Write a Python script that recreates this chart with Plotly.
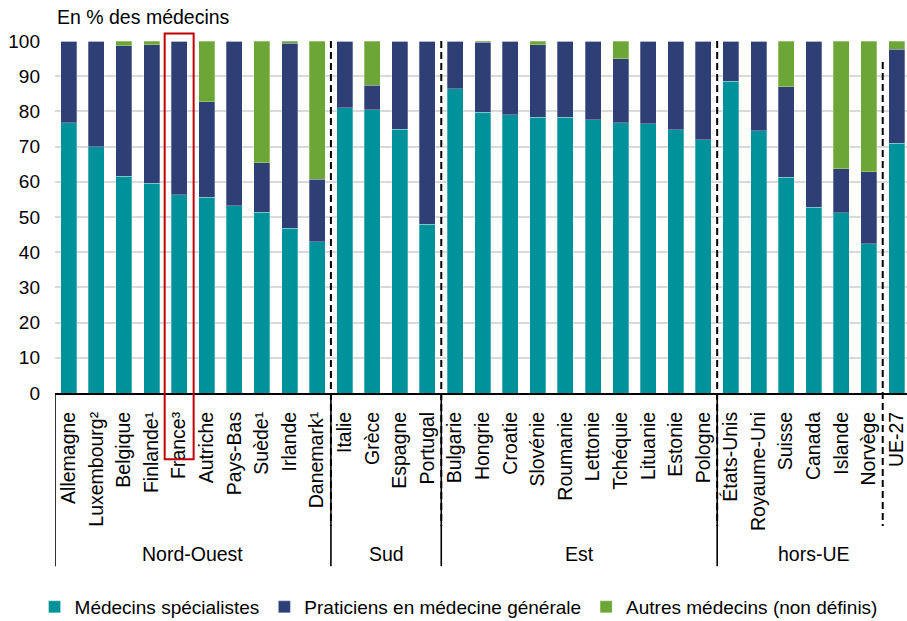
import plotly.graph_objects as go

categories = ["Allemagne", "Luxembourg²", "Belgique", "Finlande¹", "France³", "Autriche",
              "Pays-Bas", "Suède¹", "Irlande", "Danemark¹",
              "Italie", "Grèce", "Espagne", "Portugal",
              "Bulgarie", "Hongrie", "Croatie", "Slovénie", "Roumanie", "Lettonie",
              "Tchéquie", "Lituanie", "Estonie", "Pologne",
              "États-Unis", "Royaume-Uni", "Suisse", "Canada", "Islande", "Norvège",
              "UE-27"]

specialistes = [76.8, 70.0, 61.6, 59.6, 56.3, 55.6, 53.2, 51.4, 46.8, 43.0,
                81.1, 80.4, 75.0, 48.0,
                86.5, 79.8, 79.1, 78.4, 78.3, 77.6, 76.8, 76.5, 74.8, 71.9,
                88.5, 74.5, 61.3, 52.8, 51.2, 42.4,
                70.9]
generalistes = [23.2, 30.0, 37.0, 39.4, 43.7, 27.1, 46.8, 14.0, 52.5, 17.7,
                18.9, 7.0, 25.0, 52.0,
                13.5, 19.9, 20.9, 20.5, 21.7, 22.4, 18.1, 23.5, 25.2, 28.1,
                11.5, 25.5, 25.7, 47.2, 12.5, 20.5,
                26.7]
autres = [0.0, 0.0, 1.4, 1.0, 0.0, 17.3, 0.0, 34.6, 0.7, 39.3,
          0.0, 12.6, 0.0, 0.0,
          0.0, 0.3, 0.0, 1.1, 0.0, 0.0, 5.1, 0.0, 0.0, 0.0,
          0.0, 0.0, 13.0, 0.0, 36.3, 37.1,
          2.4]

series_names = ["Médecins spécialistes", "Praticiens en médecine générale",
                "Autres médecins (non définis)"]
series_colors = ["#00929A", "#2E3F76", "#6CA636"]

groups = ["Nord-Ouest", "Sud", "Est", "hors-UE"]
group_sizes = [10, 4, 10, 7]
yticks = [0, 10, 20, 30, 40, 50, 60, 70, 80, 90, 100]

FONT = "Liberation Sans, Arial, sans-serif"
x_idx = list(range(len(categories)))

fig = go.Figure()
for name, vals, col in zip(series_names, [specialistes, generalistes, autres], series_colors):
    fig.add_trace(go.Bar(x=x_idx, y=vals, name=name, marker_color=col,
                         marker_line=dict(color="rgba(255,255,255,0.35)", width=0.8),
                         width=0.58))

shapes = []
# group separators (solid) below the axis
bounds = [-0.5]
acc = -0.5
for s in group_sizes[:-1]:
    acc += s
    bounds.append(acc)
for b in bounds:
    shapes.append(dict(type="line", xref="x", yref="paper", x0=b, x1=b, y0=0, y1=-0.492,
                       line=dict(color="black", width=1.6)))
# dashed separators
for b, top in [(9.5, 1.0), (13.5, 1.0), (23.5, 1.0), (29.5, 0.94)]:
    shapes.append(dict(type="line", xref="x", yref="paper", x0=b, x1=b, y0=top, y1=-0.378,
                       line=dict(color="black", width=2, dash="7px,4px")))
# red highlight around France
fi = categories.index("France³")
shapes.append(dict(type="rect", xref="x", yref="paper", x0=fi - 0.525, x1=fi + 0.525,
                   y0=-0.1885, y1=1.021, line=dict(color="#C00000", width=2),
                   fillcolor="rgba(0,0,0,0)"))

annotations = [dict(text="En % des médecins", xref="paper", yref="paper", x=0, y=1.069,
                    xanchor="left", yanchor="middle", showarrow=False,
                    font=dict(family=FONT, size=19.5, color="black"))]
start = 0
for g, s in zip(groups, group_sizes):
    end = start + s
    annotations.append(dict(text=g, xref="x", yref="paper", x=(start - 0.5 + end - 0.5) / 2,
                            y=-0.458, xanchor="center", yanchor="middle", showarrow=False,
                            font=dict(family=FONT, size=19.5, color="black")))
    start = end

fig.update_layout(
    barmode="stack",
    width=907, height=621,
    margin=dict(l=55, r=0, t=40.7, b=227.5, autoexpand=False),
    plot_bgcolor="white", paper_bgcolor="white",
    font=dict(family=FONT, size=19.5, color="black"),
    shapes=shapes, annotations=annotations,
    showlegend=True,
    legend=dict(orientation="h", x=-0.024, y=-0.608, xanchor="left", yanchor="middle",
                font=dict(family=FONT, size=19, color="black"), itemwidth=30,
                traceorder="normal"),
    bargap=0.42,
)
fig.update_xaxes(range=[-0.5, 30.38], tickmode="array", tickvals=x_idx, ticktext=categories,
                 tickangle=-90, showline=True, linecolor="black", linewidth=2,
                 ticks="", showgrid=False, zeroline=False, ticklabelstandoff=9,
                 ticklabeloverflow="allow",
                 tickfont=dict(family=FONT, size=19.5, color="black"))
fig.update_yaxes(range=[0, 100], tickvals=yticks, showgrid=True, gridcolor="#D9D9D9",
                 gridwidth=1.5, zeroline=False, showline=False, ticks="",
                 ticklabelstandoff=14,
                 tickfont=dict(family=FONT, size=19, color="black"))

# remove the default page margin so the 907x621 figure fills the window exactly
fig.write_html("out.html", config={"displayModeBar": False},
               post_script="document.body.style.margin='0';document.body.style.overflow='hidden';")
